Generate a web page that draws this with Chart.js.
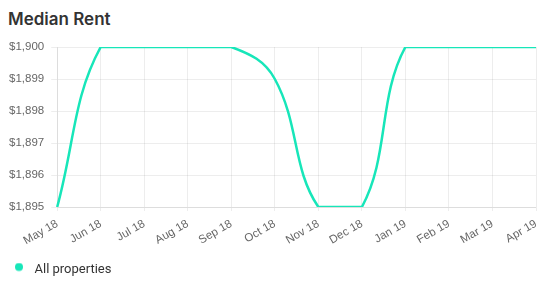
<!DOCTYPE html>
<html>
<head>
<meta charset="utf-8">
<script src="https://cdn.jsdelivr.net/npm/chart.js@4"></script>
<style>
  html, body { margin: 0; padding: 0; background: #fff; }
  #wrap { position: relative; width: 552px; height: 282px; }
  #title {
    position: absolute;
    left: 8px;
    top: 8px;
    margin: 0;
    font: 600 17px Inter, Roboto, sans-serif;
    color: #333;
    line-height: 22px;
  }
  canvas { position: absolute; left: 0; top: 0; }
</style>
</head>
<body>
<div id="wrap">
  <h1 id="title"></h1>
  <canvas id="rentChart" width="552" height="282"></canvas>
</div>
<script>
// Chart data
const months = ['May 18', 'Jun 18', 'Jul 18', 'Aug 18', 'Sep 18', 'Oct 18',
  'Nov 18', 'Dec 18', 'Jan 19', 'Feb 19', 'Mar 19', 'Apr 19'];
const medianRent = [1895, 1900, 1900, 1900, 1900, 1899, 1895, 1895, 1900, 1900, 1900, 1900];
const seriesLabel = 'All properties';
const chartTitle = 'Median Rent';

const lineColor = '#17e6b9';
const gridColor = 'rgba(0, 0, 0, 0.07)';
const tickFont = { size: 11.5, family: "'Liberation Sans', Arial, sans-serif" };

document.getElementById('title').textContent = chartTitle;

function formatMoney(v) {
  return '$' + Number(v).toLocaleString('en-US');
}

// legend marker: small dot, drawn a bit right of and above the box centre
function makeDot(w, h, dx, dy, r) {
  const c = document.createElement('canvas');
  c.width = w;
  c.height = h;
  const g = c.getContext('2d');
  g.fillStyle = lineColor;
  g.beginPath();
  g.arc(w / 2 + dx, h / 2 + dy, r, 0, Math.PI * 2);
  g.fill();
  return c;
}
const legendDot = makeDot(26, 14, 4, -2.5, 4);

const ctx = document.getElementById('rentChart').getContext('2d');

new Chart(ctx, {
  type: 'line',
  data: {
    labels: months,
    datasets: [{
      label: seriesLabel,
      data: medianRent,
      borderColor: lineColor,
      backgroundColor: lineColor,
      borderWidth: 2.5,
      tension: 0.4,
      fill: false,
      pointRadius: 0,
      pointHoverRadius: 0,
      pointStyle: legendDot
    }]
  },
  options: {
    responsive: false,
    animation: false,
    layout: {
      padding: { left: 2, right: 16, top: 47, bottom: -4 }
    },
    plugins: {
      legend: {
        position: 'bottom',
        align: 'start',
        labels: {
          usePointStyle: true,
          pointStyleWidth: 26,
          boxHeight: 8,
          padding: 0,
          color: '#333',
          font: { size: 13, family: 'Roboto, sans-serif' }
        }
      },
      tooltip: { enabled: false }
    },
    scales: {
      y: {
        min: 1895,
        max: 1900,
        ticks: {
          stepSize: 1,
          color: '#666',
          padding: 7,
          font: tickFont,
          callback: function(value) {
            return formatMoney(value);
          }
        },
        grid: {
          color: gridColor,
          tickLength: 6
        },
        border: { color: gridColor }
      },
      x: {
        // leave room between the month labels and the legend
        afterFit: function(scale) {
          scale.height = 56;
        },
        ticks: {
          color: '#666',
          minRotation: 30,
          maxRotation: 30,
          padding: 6,
          font: tickFont
        },
        grid: {
          color: gridColor,
          tickLength: 4
        },
        border: { color: gridColor }
      }
    }
  }
});
</script>
</body>
</html>
